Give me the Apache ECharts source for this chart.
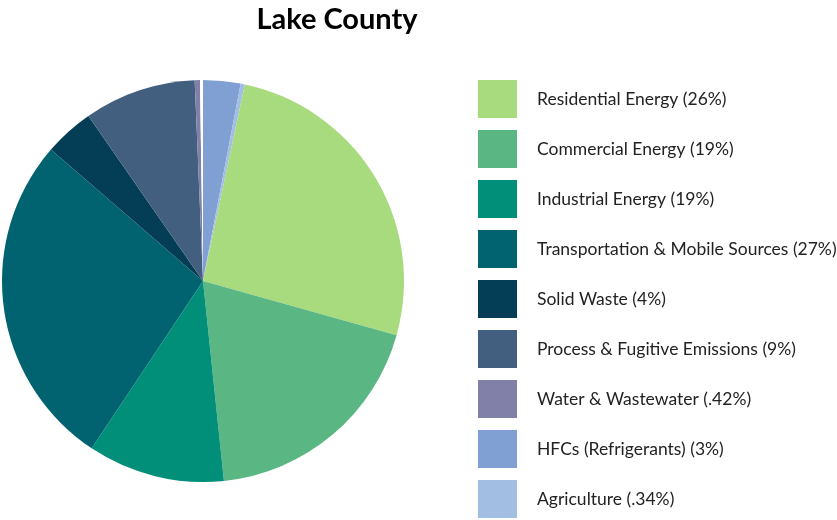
<!DOCTYPE html>
<html><head><meta charset="utf-8">
<script src="https://cdn.jsdelivr.net/npm/echarts@6/dist/echarts.min.js"></script>
<style>html,body{margin:0;padding:0;background:#fff}#c{width:837px;height:520px}</style>
</head><body><div id="c"></div>
<script>
// Legend order
const legendLabels = [
  'Residential Energy (26%)',
  'Commercial Energy (19%)',
  'Industrial Energy (19%)',
  'Transportation & Mobile Sources (27%)',
  'Solid Waste (4%)',
  'Process & Fugitive Emissions (9%)',
  'Water & Wastewater (.42%)',
  'HFCs (Refrigerants) (3%)',
  'Agriculture (.34%)'
];
// Slice values as drawn (percent of circle), in legend order
const sliceValues = [26, 19, 11, 27, 4, 9, 0.42, 3, 0.34];
const sliceColors = ['#a8db7e', '#5ab783', '#018f79', '#00636f', '#043e56', '#425f80', '#8080a9', '#809fd3', '#a3bee3'];
// Unfilled remainder of the circle (drawn blank)
const remainder = 0.24;
// Drawing order clockwise from 12 o'clock (indices into the arrays above)
const drawOrder = [7, 8, 0, 1, 2, 3, 4, 5, 6];

const pieData = drawOrder.map(i => ({ name: legendLabels[i], value: sliceValues[i], itemStyle: { color: sliceColors[i] } }));
pieData.push({ name: '', value: remainder, itemStyle: { color: '#ffffff' }, emphasis: { disabled: true } });

const chart = echarts.init(document.getElementById('c'));
chart.setOption({
  animation: false,
  color: sliceColors,
  title: {
    text: 'Lake County',
    left: 332, top: 0, textAlign: 'center',
    textStyle: { fontFamily: 'Lato', fontWeight: 'bold', fontSize: 29, color: '#000' }
  },
  legend: {
    data: legendLabels,
    orient: 'vertical',
    left: 478, top: 80, height: 460, padding: 0,
    icon: 'rect',
    itemWidth: 39, itemHeight: 38, itemGap: 12,
    selectedMode: false,
    textStyle: { fontFamily: 'Lato', fontSize: 17.5, color: '#222', padding: [0, 0, 0, 15] }
  },
  series: [{
    type: 'pie',
    center: [203, 281],
    radius: [0, 201],
    startAngle: 90,
    clockwise: true,
    label: { show: false },
    labelLine: { show: false },
    itemStyle: { borderWidth: 0 },
    data: pieData
  }]
});
</script></body></html>
